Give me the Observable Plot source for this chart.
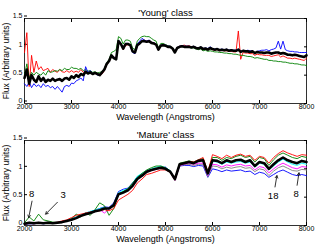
<!DOCTYPE html>
<html>
<head>
<meta charset="utf-8">
<script src="https://cdn.jsdelivr.net/npm/d3@7"></script>
<script src="https://cdn.jsdelivr.net/npm/@observablehq/plot@0.6"></script>
<style>
  html, body { margin: 0; padding: 0; background: #fff; }
  #chart svg { display: block; }
</style>
</head>
<body>
<div id="chart"></div>
<script>
// ---------- data ----------
const xTicks = [2000, 3000, 4000, 5000, 6000, 7000, 8000];
const yTicks = [0, 0.5, 1, 1.5];
const titles = ["'Young' class", "'Mature' class"];
const xLabel = "Wavelength (Angstroms)";
const yLabel = "Flux (Arbitrary units)";

// wavelength grids (Angstroms)
const wlYoung = d3.range(2000, 8001, 50);
const wlMature = d3.range(2000, 8001, 100);

// 'Young' class spectra (every 50 A)
const youngRed = [0.9,1.25,0.3,0.85,0.55,0.75,0.6,0.65,0.58,0.6,0.62,0.55,0.6,0.57,0.55,0.6,0.56,0.55,0.58,0.55,
  0.58,0.55,0.57,0.55,0.6,0.55,0.57,0.54,0.56,0.52,0.55,0.52,0.5,0.52,0.58,0.68,0.74,0.82,0.82,0.8,
  1.08,1.05,0.95,1.02,1.04,1.02,0.92,0.9,1.03,1.06,1.1,1.12,1.1,1.11,1.08,1.07,1.05,0.96,1.02,1.04,
  1.02,1.0,1.01,0.97,0.92,0.99,1.01,1.02,1.03,1.01,1.02,1.0,1.0,0.99,0.98,0.99,0.96,0.97,0.95,0.97,
  0.95,0.94,0.95,0.93,0.94,0.93,0.93,0.92,0.92,0.91,0.91,1.28,0.78,0.9,0.89,0.89,0.88,0.88,0.85,0.87,
  0.86,0.86,0.85,0.85,0.85,0.83,0.84,0.85,0.86,0.82,0.84,0.82,0.8,0.8,0.79,0.8,0.79,0.78,0.77,0.76,0.8];
const youngGreen = [0.5,0.7,0.45,0.55,0.5,0.55,0.52,0.5,0.55,0.5,0.58,0.55,0.56,0.58,0.57,0.6,0.58,0.62,0.6,0.6,
  0.64,0.62,0.62,0.6,0.62,0.58,0.6,0.57,0.58,0.55,0.56,0.54,0.55,0.56,0.62,0.72,0.78,0.9,0.92,0.95,
  1.18,1.15,1.05,1.12,1.12,1.1,0.98,0.95,1.1,1.15,1.18,1.19,1.18,1.18,1.15,1.12,1.1,0.98,1.06,1.06,
  1.04,1.02,1.01,0.98,0.92,0.99,1.0,1.01,1.0,0.99,0.99,0.98,0.98,0.96,0.95,0.96,0.93,0.94,0.92,0.93,
  0.92,0.91,0.91,0.9,0.9,0.89,0.89,0.88,0.88,0.87,0.87,0.86,0.85,0.85,0.84,0.83,0.83,0.82,0.8,0.81,
  0.8,0.79,0.78,0.78,0.76,0.76,0.75,0.75,0.74,0.74,0.73,0.73,0.72,0.71,0.71,0.7,0.7,0.69,0.68,0.68,0.67];
const youngBlue = [0.35,0.3,0.38,0.28,0.35,0.3,0.33,0.28,0.35,0.3,0.32,0.28,0.3,0.25,0.3,0.25,0.2,0.3,0.32,0.3,
  0.36,0.35,0.4,0.42,0.45,0.4,0.65,0.55,0.58,0.52,0.55,0.5,0.5,0.55,0.6,0.7,0.75,0.85,0.82,0.8,
  1.12,1.06,0.98,1.06,1.06,1.03,0.9,0.88,1.05,1.1,1.15,1.12,1.1,1.12,1.08,1.07,1.05,0.95,1.03,1.04,
  1.03,1.01,1.01,0.97,0.9,0.99,1.01,1.02,1.01,1.01,1.01,1.0,1.01,0.99,0.98,1.0,0.97,0.98,0.97,1.0,
  0.97,0.96,0.97,0.95,0.96,0.95,0.96,0.94,0.95,0.94,0.94,0.96,0.92,0.94,0.93,0.94,0.93,0.93,0.88,0.92,
  0.93,0.94,0.94,0.95,0.93,0.95,0.96,0.98,1.1,0.96,1.1,0.95,0.93,0.92,0.92,0.91,0.91,0.9,0.9,0.9,0.9];
const youngBlack = [0.45,0.6,0.35,0.5,0.42,0.38,0.48,0.4,0.45,0.38,0.42,0.4,0.44,0.4,0.42,0.43,0.4,0.44,0.45,0.42,
  0.48,0.45,0.5,0.47,0.52,0.5,0.56,0.53,0.55,0.52,0.54,0.52,0.5,0.55,0.6,0.7,0.75,0.85,0.8,0.78,
  1.1,1.05,0.97,1.05,1.05,1.03,0.92,0.9,1.03,1.06,1.1,1.1,1.09,1.1,1.07,1.06,1.04,0.95,1.02,1.03,
  1.02,1.0,1.0,0.97,0.9,0.98,1.0,1.01,1.0,1.0,1.0,0.99,1.0,0.98,0.97,0.99,0.96,0.97,0.95,0.98,
  0.96,0.95,0.96,0.94,0.95,0.94,0.95,0.93,0.94,0.93,0.93,0.95,0.91,0.93,0.92,0.92,0.91,0.92,0.89,0.91,
  0.9,0.9,0.89,0.9,0.9,0.88,0.89,0.9,0.9,0.88,0.89,0.88,0.86,0.86,0.85,0.86,0.85,0.84,0.83,0.82,0.85];

// 'Mature' class spectra (every 100 A)
const matureRed = [0.02,0.04,0.03,0.05,0.04,0.05,0.05,0.06,0.08,0.1,0.14,0.18,0.2,0.22,0.24,0.25,0.26,0.28,0.26,0.3,
  0.45,0.5,0.55,0.62,0.75,0.82,0.9,0.92,0.95,0.98,0.98,0.94,0.8,1.08,1.1,1.13,1.12,1.16,1.2,0.95,
  1.25,1.22,1.18,1.24,1.2,1.24,1.26,1.22,1.24,1.15,1.22,1.2,1.1,1.2,1.27,1.32,1.28,1.25,1.22,1.25,1.24];
const matureGreen = [0.05,0.15,0.08,0.2,0.1,0.08,0.06,0.05,0.06,0.08,0.12,0.2,0.15,0.22,0.18,0.28,0.4,0.35,0.18,0.3,
  0.55,0.6,0.65,0.75,0.85,0.92,0.98,1.02,1.05,1.05,1.02,0.96,0.82,1.1,1.12,1.14,1.12,1.16,1.18,0.95,
  1.2,1.2,1.15,1.2,1.18,1.22,1.24,1.2,1.22,1.12,1.2,1.18,1.06,1.16,1.24,1.28,1.24,1.2,1.18,1.22,1.2];
const matureBlue = [0.02,0.03,0.03,0.04,0.03,0.04,0.04,0.05,0.06,0.08,0.1,0.14,0.18,0.22,0.24,0.27,0.3,0.33,0.32,0.4,
  0.6,0.64,0.66,0.75,0.86,0.9,0.96,0.98,1.0,1.02,1.03,0.95,0.8,1.05,1.06,1.06,1.04,1.06,1.05,0.85,
  1.0,0.98,0.95,0.98,0.96,0.97,0.98,0.95,0.96,0.9,0.94,0.92,0.85,0.9,0.95,0.98,0.94,0.9,0.88,0.9,0.88];
const matureCyan = [0.03,0.04,0.05,0.04,0.05,0.05,0.05,0.06,0.07,0.09,0.12,0.15,0.19,0.22,0.25,0.27,0.3,0.32,0.3,0.38,
  0.58,0.62,0.65,0.74,0.87,0.92,0.97,1.0,1.03,1.05,1.02,0.97,0.82,1.08,1.1,1.12,1.1,1.13,1.14,0.9,
  1.13,1.12,1.08,1.12,1.1,1.12,1.13,1.1,1.12,1.03,1.1,1.08,0.98,1.05,1.12,1.17,1.12,1.08,1.06,1.1,1.08];
const matureMagenta = [0.03,0.04,0.04,0.05,0.04,0.05,0.05,0.05,0.06,0.08,0.11,0.14,0.18,0.21,0.23,0.25,0.28,0.22,0.29,0.35,
  0.54,0.58,0.62,0.7,0.82,0.88,0.94,0.97,0.99,1.01,1.0,0.95,0.8,1.06,1.08,1.1,1.08,1.1,1.1,0.88,
  1.08,1.07,1.03,1.07,1.05,1.07,1.08,1.05,1.06,0.98,1.04,1.02,0.93,1.0,1.06,1.1,1.06,1.02,1.0,1.04,1.03];
const matureGray = [0.04,0.05,0.05,0.05,0.05,0.06,0.05,0.06,0.07,0.09,0.12,0.15,0.18,0.21,0.24,0.26,0.29,0.31,0.3,0.37,
  0.57,0.6,0.64,0.72,0.84,0.9,0.95,0.98,1.0,1.02,1.01,0.95,0.8,1.06,1.07,1.08,1.06,1.08,1.08,0.86,
  1.05,1.04,1.0,1.03,1.01,1.03,1.04,1.01,1.02,0.95,1.0,0.98,0.88,0.96,1.02,1.05,1.01,0.97,0.96,0.99,0.98];
const matureBlack = [0.03,0.05,0.04,0.05,0.04,0.05,0.04,0.05,0.06,0.08,0.1,0.13,0.17,0.2,0.22,0.25,0.27,0.3,0.3,0.36,
  0.55,0.58,0.62,0.7,0.82,0.88,0.95,0.98,1.0,1.02,1.0,0.95,0.82,1.08,1.1,1.12,1.1,1.14,1.15,0.92,
  1.15,1.14,1.1,1.15,1.12,1.15,1.16,1.12,1.15,1.05,1.12,1.1,1.0,1.08,1.15,1.2,1.15,1.12,1.1,1.14,1.12];

// annotation labels and arrows (Mature panel, data units)
const annLabel = ["8", "3", "18", "8"];
const annTextX = [2150, 2820, 7290, 7780];
const annTextY = [0.55, 0.54, 0.53, 0.56];
const annFromX = [2160, 2700, 7330, 7800];
const annFromY = [0.43, 0.41, 0.68, 0.71];
const annToX = [2090, 2450, 7370, 7840];
const annToY = [0.14, 0.2, 0.88, 0.93];

// ---------- build ----------
const font = "Liberation Sans, Arial, Helvetica, sans-serif";

function tidy(wl, series) {
  const rows = [];
  for (const s of series) s.values.forEach((v, i) => rows.push({wl: wl[i], flux: v, name: s.name}));
  return rows;
}

function panel({title, wl, colored, black, height, annotations}) {
  const coloredRows = tidy(wl, colored);
  const blackRows = black.map((v, i) => ({wl: wl[i], flux: v}));
  const marks = [
    Plot.frame({stroke: "black", strokeWidth: 0.8}),
    Plot.axisX({ticks: xTicks, tickSize: -3, tickPadding: 4, tickFormat: d => String(d),
      fontSize: 7, label: null}),
    Plot.axisX({anchor: "top", ticks: xTicks, tickSize: -3, tickFormat: () => "", label: null}),
    Plot.axisY({ticks: yTicks, tickSize: -3, tickPadding: 5, tickFormat: d => String(d),
      fontSize: 7, label: null, dy: -2.5}),
    Plot.axisY({anchor: "right", ticks: yTicks, tickSize: -3, tickFormat: () => "", label: null}),
    Plot.line(coloredRows, {x: "wl", y: "flux", z: "name", stroke: "name", strokeWidth: 0.9}),
    Plot.line(blackRows, {x: "wl", y: "flux", stroke: "black", strokeWidth: 2.6}),
    Plot.text([title], {frameAnchor: "top", dy: -9, fontSize: 9.5, fill: "black"}),
    Plot.text([xLabel], {frameAnchor: "bottom", dy: 16, fontSize: 9, fill: "black"}),
    Plot.text([yLabel], {frameAnchor: "left", dx: -18, rotate: -90, textAnchor: "middle",
      lineAnchor: "middle", fontSize: 8.5, fill: "black"})
  ];
  if (annotations) {
    const idx = annLabel.map((_, i) => i);
    marks.push(Plot.arrow(idx, {x1: i => annFromX[i], y1: i => annFromY[i], x2: i => annToX[i], y2: i => annToY[i],
      stroke: "black", strokeWidth: 0.8, headLength: 5}));
    marks.push(Plot.text(idx, {x: i => annTextX[i], y: i => annTextY[i], text: i => annLabel[i], fontSize: 9.5, fill: "black"}));
  }
  return Plot.plot({
    width: 316, height,
    marginLeft: 24, marginRight: 10, marginTop: 18, marginBottom: height - 103,
    style: {fontFamily: font, background: "white", color: "black", fontSize: "9px"},
    x: {domain: [2000, 8000]},
    y: {domain: [0, 1.5]},
    color: {domain: colored.map(s => s.name), range: colored.map(s => s.color)},
    marks
  });
}

const topPanel = panel({
  title: titles[0], wl: wlYoung, height: 122,
  colored: [
    {name: "red", color: "#ff1a1a", values: youngRed},
    {name: "green", color: "#2ea82e", values: youngGreen},
    {name: "blue", color: "#3050ff", values: youngBlue}
  ],
  black: youngBlack
});
const bottomPanel = panel({
  title: titles[1], wl: wlMature, height: 123, annotations: true,
  colored: [
    {name: "blue", color: "#3050ff", values: matureBlue},
    {name: "gray", color: "#888888", values: matureGray},
    {name: "magenta", color: "#cc33cc", values: matureMagenta},
    {name: "cyan", color: "#22cccc", values: matureCyan},
    {name: "green", color: "#2ea82e", values: matureGreen},
    {name: "red", color: "#ff1a1a", values: matureRed}
  ],
  black: matureBlack
});
document.getElementById("chart").append(topPanel, bottomPanel);
</script>
</body>
</html>
